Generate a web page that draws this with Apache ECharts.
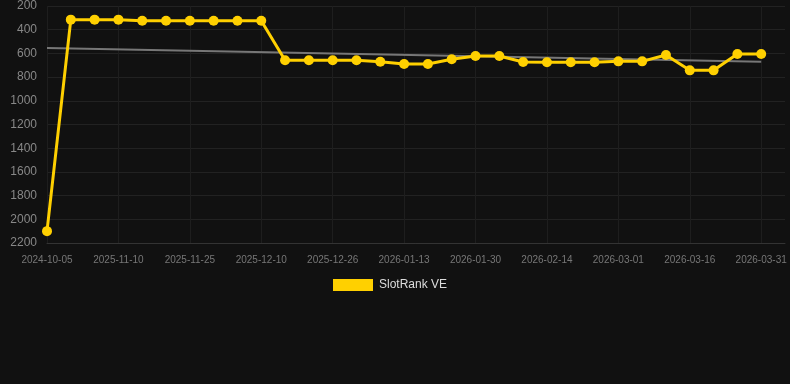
<!DOCTYPE html>
<html>
<head>
<meta charset="utf-8">
<script src="https://cdn.jsdelivr.net/npm/echarts@6/dist/echarts.min.js"></script>
<style>html,body{margin:0;padding:0;background:#111111;}#c{width:790px;height:384px;}</style>
</head>
<body>
<div id="c"></div>
<script>
var categories = [
  '2024-10-05','2025-10-31','2025-11-05','2025-11-10','2025-11-15','2025-11-20','2025-11-25','2025-11-30','2025-12-05','2025-12-10',
  '2025-12-15','2025-12-20','2025-12-26','2025-12-31','2026-01-06','2026-01-13','2026-01-19','2026-01-24','2026-01-30','2026-02-04',
  '2026-02-09','2026-02-14','2026-02-19','2026-02-24','2026-03-01','2026-03-06','2026-03-11','2026-03-16','2026-03-21','2026-03-26','2026-03-31'
];
var rankValues = [
  2100, 315, 315, 315, 324, 324, 324, 324, 324, 324,
  658, 658, 658, 658, 670, 689, 689, 650, 622, 622,
  673, 675, 675, 675, 667, 667, 614, 743, 743, 605, 605
];
var trendEnds = [554, 670];
var seriesName = 'SlotRank VE';

var chart = echarts.init(document.getElementById('c'), null, {renderer: 'canvas'});
chart.setOption({
  backgroundColor: '#111111',
  animation: false,
  grid: {left: 47, right: 5, top: 6, bottom: 141, containLabel: false},
  legend: {
    data: [seriesName],
    top: 274,
    left: 328,
    itemWidth: 40,
    itemHeight: 12,
    itemGap: 10,
    icon: 'rect',
    textStyle: {color: '#dddddd', fontSize: 12, padding: [0, 0, 0, 1], fontFamily: 'Liberation Sans, Arial, sans-serif'}
  },
  xAxis: {
    type: 'category',
    data: categories,
    boundaryGap: false,
    max: categories.length,
    axisLine: {lineStyle: {color: '#333333'}},
    axisTick: {show: false},
    axisLabel: {color: '#777777', fontSize: 10, interval: 2, margin: 12, fontFamily: 'Liberation Sans, Arial, sans-serif',
      formatter: function (v) { return v == null ? '' : v; }},
    splitLine: {show: true, interval: 2, lineStyle: {color: '#1e1e1e'}}
  },
  yAxis: {
    type: 'value',
    inverse: true,
    min: 200,
    max: 2200,
    interval: 200,
    axisLine: {show: false},
    axisTick: {show: false},
    axisLabel: {color: '#888888', fontSize: 12, margin: 10, fontFamily: 'Liberation Sans, Arial, sans-serif',
      formatter: function (v) { return String(v); }},
    splitLine: {lineStyle: {color: '#222222'}}
  },
  series: [{
    name: seriesName,
    type: 'line',
    data: rankValues,
    symbol: 'circle',
    symbolSize: 10,
    itemStyle: {color: '#ffd000'},
    lineStyle: {color: '#ffd000', width: 3},
    z: 3,
    markLine: {
      silent: true,
      symbol: ['none', 'none'],
      label: {show: false},
      lineStyle: {color: '#777777', width: 2, type: 'solid'},
      z: 1,
      data: [[{coord: [0, trendEnds[0]]}, {coord: [categories.length - 1, trendEnds[1]]}]]
    }
  }]
});
</script>
</body>
</html>
